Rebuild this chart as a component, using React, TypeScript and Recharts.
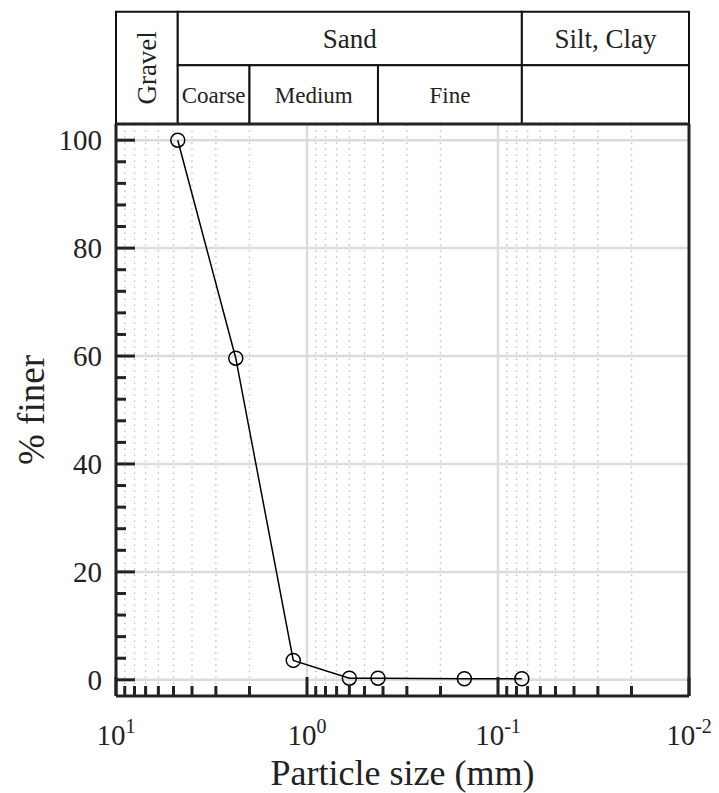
import React from "react";
import {
  LineChart,
  Line,
  XAxis,
  YAxis,
  ReferenceLine,
  ReferenceArea,
  Label,
} from "recharts";

// sieve analysis (mm / % passing)
const sieveSize = [4.75, 2.36, 1.18, 0.6, 0.425, 0.15, 0.075];
const percentFiner = [100, 59.6, 3.6, 0.3, 0.3, 0.2, 0.2];

const xMajorTicks = [10, 1, 0.1, 0.01];
const xMinorTicks = [
  9, 8, 7, 6, 5, 4, 3, 2,
  0.9, 0.8, 0.7, 0.6, 0.5, 0.4, 0.3, 0.2,
  0.09, 0.08, 0.07, 0.06, 0.05, 0.04, 0.03, 0.02,
];
const yMajorTicks = [0, 20, 40, 60, 80, 100];
const yMinorTicks = [4, 8, 12, 16, 24, 28, 32, 36, 44, 48, 52, 56, 64, 68, 72, 76, 84, 88, 92, 96];

// soil classes, size limits in mm
const gravelClass = { name: "Gravel", from: 10, to: 4.75 };
const mainClasses = [
  { name: "Sand", from: 4.75, to: 0.075 },
  { name: "Silt, Clay", from: 0.075, to: 0.01 },
];
const sandClasses = [
  { name: "Coarse", from: 4.75, to: 2 },
  { name: "Medium", from: 2, to: 0.425 },
  { name: "Fine", from: 0.425, to: 0.075 },
  { name: "", from: 0.075, to: 0.01 },
];

const rows = sieveSize.map((s, i) => ({ size: s, finer: percentFiner[i] }));

const X_DOMAIN = [0.01, 10];
const Y_DOMAIN = [-3, 103];
// header table rows sit above the plot, in y units
const TABLE_TOP = 123.8;
const TABLE_MID = 113.9;

const INK = "#222";
const GRID = "#dcdcdc";
const FONT = '"Liberation Serif", "Times New Roman", serif';

const isMajor = (list: number[], v: number) => list.some((m) => Math.abs(m - v) < 1e-9);

// inward tick + 10^n label on the bottom axis
const XTick = ({ x, y, payload }: any) => {
  const v = payload.value;
  const major = isMajor(xMajorTicks, v);
  const exp = Math.round(Math.log10(v));
  return (
    <g>
      <line x1={x} x2={x} y1={y} y2={y - (major ? 19 : 10)} stroke={INK} strokeWidth={3} />
      {major && (
        <text x={x} y={y + 49} textAnchor="middle" fill={INK} fontSize={29}>
          10
          <tspan dy={-12} fontSize={20}>
            {exp}
          </tspan>
        </text>
      )}
    </g>
  );
};

// inward tick + label on the left axis
const YTick = ({ x, y, payload }: any) => {
  const v = payload.value;
  const major = isMajor(yMajorTicks, v);
  return (
    <g>
      <line x1={x} x2={x + (major ? 19 : 10)} y1={y} y2={y} stroke={INK} strokeWidth={3} />
      {major && (
        <text x={x - 14} y={y} dy="0.35em" textAnchor="end" fill={INK} fontSize={29}>
          {v}
        </text>
      )}
    </g>
  );
};

const XTitle = ({ viewBox }: any) => (
  <text
    x={viewBox.x + viewBox.width / 2}
    y={viewBox.y + 89}
    textAnchor="middle"
    fontSize={36}
    fill={INK}
  >
    Particle size (mm)
  </text>
);

const YTitle = ({ viewBox }: any) => {
  const cx = viewBox.x + 31;
  const cy = viewBox.y + viewBox.height / 2;
  return (
    <text
      x={cx}
      y={cy}
      transform={`rotate(-90 ${cx} ${cy})`}
      textAnchor="middle"
      dominantBaseline="central"
      fontSize={37}
      fill={INK}
    >
      % finer
    </text>
  );
};

const cellProps = {
  ifOverflow: "visible" as const,
  fill: "#fff",
  fillOpacity: 1,
  stroke: "#111",
  strokeWidth: 2,
};

export default function App() {
  return (
    <div
      style={{
        position: "absolute",
        left: 0,
        top: 0,
        width: 719,
        height: 793,
        background: "#fff",
        fontFamily: FONT,
      }}
    >
      <LineChart
        width={719}
        height={793}
        data={rows}
        margin={{ top: 124, right: 30, bottom: 0, left: 0 }}
      >
        {xMinorTicks.map((v) => (
          <ReferenceLine key={"m" + v} x={v} stroke="#c4c4c4" strokeWidth={1.5} strokeDasharray="1.5 4.5" />
        ))}
        <ReferenceLine x={1} stroke={GRID} strokeWidth={2.5} />
        <ReferenceLine x={0.1} stroke={GRID} strokeWidth={2.5} />
        {yMajorTicks.map((v) => (
          <ReferenceLine key={"g" + v} y={v} stroke={GRID} strokeWidth={2.5} />
        ))}

        <Line
          type="linear"
          dataKey="finer"
          stroke="#000"
          strokeWidth={1.5}
          dot={{ r: 7, stroke: "#000", strokeWidth: 1.5, fill: "none" }}
          isAnimationActive={false}
        />

        <XAxis
          dataKey="size"
          type="number"
          scale="log"
          domain={X_DOMAIN}
          reversed
          allowDataOverflow
          ticks={[...xMajorTicks, ...xMinorTicks]}
          interval={0}
          height={97}
          tickLine={false}
          tickSize={0}
          tickMargin={0}
          axisLine={{ stroke: INK, strokeWidth: 3 }}
          tick={(p: any) => <XTick {...p} />}
        >
          <Label content={XTitle} />
        </XAxis>

        <YAxis
          type="number"
          domain={Y_DOMAIN}
          allowDataOverflow
          ticks={[...yMajorTicks, ...yMinorTicks].sort((a, b) => a - b)}
          interval={0}
          width={116}
          tickLine={false}
          tickSize={0}
          tickMargin={0}
          axisLine={{ stroke: INK, strokeWidth: 3 }}
          tick={(p: any) => <YTick {...p} />}
        >
          <Label content={YTitle} />
        </YAxis>

        {/* plot frame, top and right */}
        <ReferenceLine y={Y_DOMAIN[1]} stroke={INK} strokeWidth={3} />
        <ReferenceLine x={X_DOMAIN[0]} stroke={INK} strokeWidth={3} />

        {/* classification table */}
        <ReferenceArea
          x1={gravelClass.from}
          x2={gravelClass.to}
          y1={Y_DOMAIN[1]}
          y2={TABLE_TOP}
          {...cellProps}
        >
          <Label value={gravelClass.name} position="center" angle={-90} fontSize={27} fill={INK} />
        </ReferenceArea>
        {mainClasses.map((c) => (
          <ReferenceArea key={c.name} x1={c.from} x2={c.to} y1={TABLE_MID} y2={TABLE_TOP} {...cellProps}>
            <Label value={c.name} position="center" fontSize={27} fill={INK} />
          </ReferenceArea>
        ))}
        {sandClasses.map((c) => (
          <ReferenceArea key={c.name + c.from} x1={c.from} x2={c.to} y1={Y_DOMAIN[1]} y2={TABLE_MID} {...cellProps}>
            <Label value={c.name} position="center" fontSize={23} fill={INK} />
          </ReferenceArea>
        ))}
      </LineChart>
    </div>
  );
}
